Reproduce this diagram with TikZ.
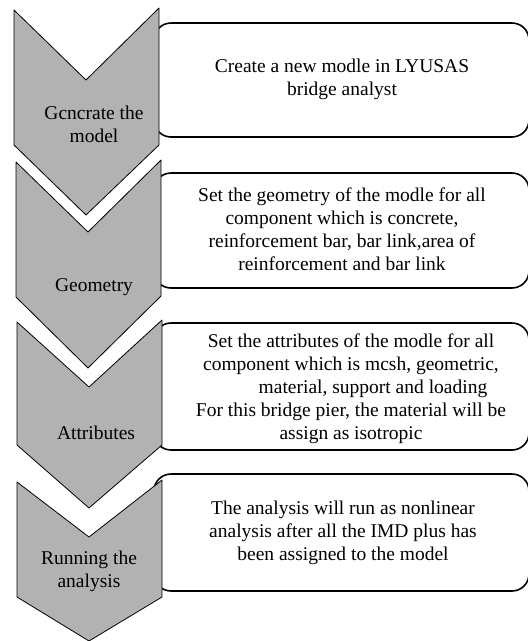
\documentclass[tikz,border=0pt]{standalone}
\usepackage{fontspec}
\setmainfont{Liberation Serif}

\begin{document}
\begin{tikzpicture}[x=1pt, y=-1pt, line join=round,
  box/.style={line width=1.6pt, rounded corners=17pt},
  chev/.style={fill=black!30, draw=black, line width=0.8pt},
  txt/.style={align=center, font=\fontsize{19.5}{23}\selectfont}]

\useasboundingbox (0,0) rectangle (528,641);

% boxes on the right
\draw [box] (154,23) rectangle (529,137);
\draw [box] (154,173) rectangle (529,288);
\draw [box] (154,323) rectangle (529,450);
\draw [box] (154,474) rectangle (529,591);

% chevrons on the left
\draw [chev] (14,10)--(86,80)--(159,8)--(159,145)--(86,215)--(14,145)--cycle;
\draw [chev] (16,162)--(88,232)--(161,160)--(161,296)--(88,368)--(16,297)--cycle;
\draw [chev] (17,322)--(89,387)--(162,320)--(162,445)--(89,508)--(17,445)--cycle;
\draw [chev] (17,482)--(89,537)--(162,480)--(162,597)--(89,641)--(17,597)--cycle;

\node [txt] (generate) at (94,124) {Gcncrate the\\model};
\node [txt] (geometry) at (94,287) {Geometry};
\node [txt] (attributes) at (96,433) {Attributes};
\node [txt] (running) at (89,571) {Running the\\analysis};

\node [txt] (create) at (342,79) {Create a new modle in LYUSAS\\bridge analyst};
\node [txt] (setgeo) at (342,229) {Set the geometry of the modle for all\\component which is concrete,\\reinforcement bar, bar link,area of\\reinforcement and bar link};
\node [txt] (setatt) at (351,389) {Set the attributes of the modle for all\\component which is mcsh, geometric,\\\hspace*{44pt}material, support and loading\\For this bridge pier, the material will be\\assign as isotropic};
\node [txt] (analysis) at (343,533) {The analysis will run as nonlinear\\analysis after all the IMD plus has\\been assigned to the model};

\end{tikzpicture}
\end{document}
